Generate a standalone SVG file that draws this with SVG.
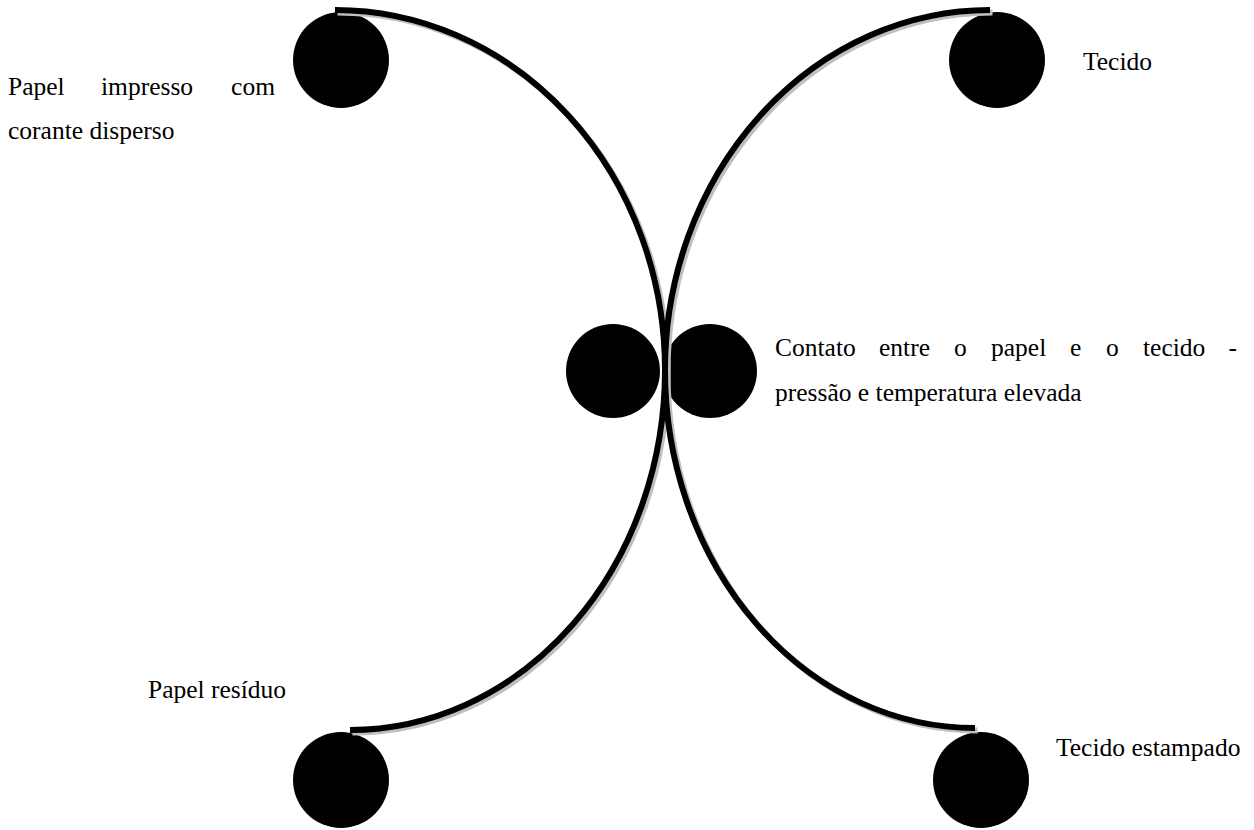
<svg xmlns="http://www.w3.org/2000/svg" width="1254" height="830" viewBox="0 0 1254 830">
  <style>
    .roll { fill: #000000; }
    .curve { fill: none; stroke: #000000; stroke-width: 6; stroke-linecap: butt; }
    .shadow { fill: none; stroke: #bfbfbf; stroke-width: 6; stroke-linecap: butt; }
    .lbl { font-family: "Liberation Serif", "Times New Roman", serif; font-size: 25.5px; fill: #000000; }
  </style>
  <rect x="0" y="0" width="1254" height="830" fill="#ffffff"/>

  <g id="roll-paper-in"><circle class="roll" cx="341" cy="60" r="48"/></g>
  <g id="roll-fabric-in"><circle class="roll" cx="997" cy="60" r="48"/></g>
  <g id="roll-press-left"><circle class="roll" cx="613" cy="371" r="47"/></g>
  <g id="roll-press-right"><circle class="roll" cx="710" cy="371" r="47"/></g>
  <g id="roll-paper-out"><circle class="roll" cx="341" cy="780" r="48"/></g>
  <g id="roll-fabric-out"><circle class="roll" cx="981" cy="780" r="48"/></g>

  <g id="connectors">
    <g transform="translate(2.5,2.5)">
      <path class="shadow" d="M 335 10 A 330 360 0 0 1 665 370 A 315 360 0 0 1 350 730"/>
      <path class="shadow" d="M 990 10 A 325 360 0 0 0 665 370 A 310 358 0 0 0 975 728"/>
    </g>
    <path id="paper-path" class="curve" d="M 335 10 A 330 360 0 0 1 665 370 A 315 360 0 0 1 350 730"/>
    <path id="fabric-path" class="curve" d="M 990 10 A 325 360 0 0 0 665 370 A 310 358 0 0 0 975 728"/>
  </g>

  <g id="label-paper-in">
    <text class="lbl" x="8" y="95">Papel</text>
    <text class="lbl" x="101" y="95">impresso</text>
    <text class="lbl" x="275" y="95" text-anchor="end">com</text>
    <text class="lbl" x="8" y="139">corante disperso</text>
  </g>
  <g id="label-fabric-in">
    <text class="lbl" x="1083" y="70">Tecido</text>
  </g>
  <g id="label-press">
    <text class="lbl" x="775" y="356">Contato</text>
    <text class="lbl" x="879" y="356">entre</text>
    <text class="lbl" x="954" y="356">o</text>
    <text class="lbl" x="991" y="356">papel</text>
    <text class="lbl" x="1070" y="356">e</text>
    <text class="lbl" x="1106" y="356">o</text>
    <text class="lbl" x="1143" y="356">tecido</text>
    <text class="lbl" x="1237" y="356" text-anchor="end">-</text>
    <text class="lbl" x="775" y="401">pressão e temperatura elevada</text>
  </g>
  <g id="label-paper-out">
    <text class="lbl" x="148" y="698">Papel resíduo</text>
  </g>
  <g id="label-fabric-out">
    <text class="lbl" x="1056" y="756">Tecido estampado</text>
  </g>
</svg>
